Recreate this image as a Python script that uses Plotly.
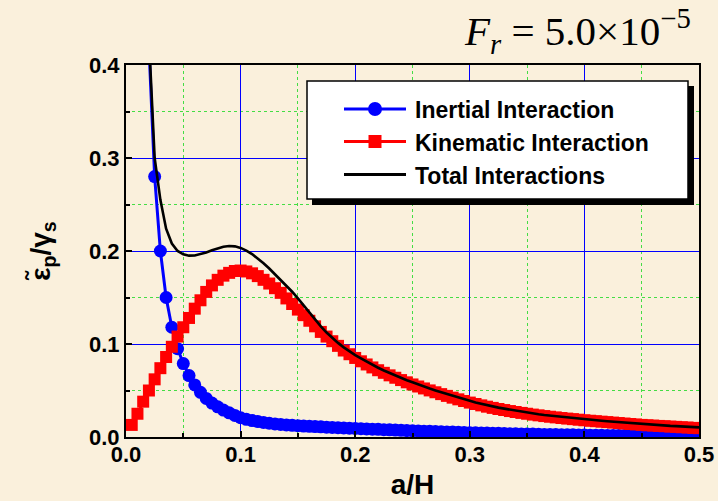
import plotly.graph_objects as go

# Normalised pile length a/H (sampling grid of the three curves)
a_over_h = [round(0.005 * i, 3) for i in range(1, 101)]

# Inertial interaction
inertial = [
    5.1, 1.46, 0.70, 0.42, 0.280, 0.200, 0.150, 0.118, 0.095, 0.079,
    0.066, 0.056, 0.048, 0.0415, 0.0365, 0.0325, 0.029, 0.026, 0.0232, 0.0207,
    0.0190, 0.0177, 0.0166, 0.0156, 0.0148, 0.0141, 0.0135, 0.0130, 0.0126, 0.0122,
    0.0118, 0.0115, 0.0112, 0.0109, 0.0106, 0.0103, 0.0100, 0.0097, 0.0094, 0.0092,
    0.0089, 0.0087, 0.0084, 0.0082, 0.0079, 0.0077, 0.0074, 0.0072, 0.0069, 0.0067,
    0.0065, 0.0063, 0.0061, 0.0059, 0.0057, 0.0055, 0.0053, 0.0051, 0.0049, 0.0047,
    0.0045, 0.0044, 0.0042, 0.0041, 0.0039, 0.0038, 0.0036, 0.0035, 0.0033, 0.0032,
    0.0031, 0.0029, 0.0028, 0.0027, 0.0026, 0.0025, 0.0024, 0.0023, 0.0022, 0.0021,
    0.0020, 0.0019, 0.0018, 0.0017, 0.0016, 0.0015, 0.0015, 0.0014, 0.0013, 0.0012,
    0.0012, 0.0011, 0.0010, 0.0010, 0.0009, 0.0009, 0.0008, 0.0008, 0.0007, 0.0007,
]

# Kinematic interaction
kinematic = [
    0.013, 0.025, 0.038, 0.050, 0.062, 0.074, 0.086, 0.097, 0.108, 0.118,
    0.128, 0.138, 0.147, 0.156, 0.163, 0.169, 0.1735, 0.1765, 0.1785, 0.179,
    0.178, 0.176, 0.173, 0.169, 0.165, 0.160, 0.155, 0.149, 0.143, 0.137,
    0.131, 0.125, 0.119, 0.113, 0.108, 0.103, 0.098, 0.093, 0.089, 0.085,
    0.0814, 0.0780, 0.0748, 0.0718, 0.0690, 0.0663, 0.0637, 0.0612, 0.0588, 0.0565,
    0.0543, 0.0522, 0.0501, 0.0481, 0.0461, 0.0442, 0.0423, 0.0405, 0.0387, 0.0370,
    0.0355, 0.0340, 0.0326, 0.0313, 0.0301, 0.0290, 0.0279, 0.0269, 0.0259, 0.0250,
    0.0241, 0.0233, 0.0225, 0.0218, 0.0211, 0.0204, 0.0198, 0.0192, 0.0186, 0.0180,
    0.0175, 0.0170, 0.0165, 0.0160, 0.0155, 0.0150, 0.0145, 0.0140, 0.0135, 0.0130,
    0.0126, 0.0123, 0.0119, 0.0116, 0.0112, 0.0109, 0.0105, 0.0102, 0.0098, 0.0095,
]

# Total interactions
total = [
    5.3, 1.5, 0.68, 0.43, 0.300, 0.255, 0.224, 0.208, 0.200, 0.1965,
    0.1950, 0.1952, 0.1965, 0.1985, 0.2007, 0.2028, 0.2045, 0.2054, 0.2050, 0.2033,
    0.2005, 0.1967, 0.1920, 0.1868, 0.1812, 0.1752, 0.1690, 0.1628, 0.1562, 0.1490,
    0.1414, 0.1337, 0.1261, 0.1189, 0.1123, 0.1065, 0.1012, 0.0964, 0.0920, 0.0880,
    0.0845, 0.0810, 0.0777, 0.0745, 0.0715, 0.0687, 0.0660, 0.0634, 0.0610, 0.0588,
    0.0563, 0.0542, 0.0521, 0.0501, 0.0481, 0.0462, 0.0443, 0.0425, 0.0407, 0.0389,
    0.0370, 0.0355, 0.0341, 0.0328, 0.0316, 0.0305, 0.0294, 0.0284, 0.0274, 0.0265,
    0.0253, 0.0245, 0.0237, 0.0230, 0.0223, 0.0216, 0.0210, 0.0204, 0.0198, 0.0192,
    0.0185, 0.0180, 0.0175, 0.0170, 0.0165, 0.0160, 0.0155, 0.0150, 0.0145, 0.0140,
    0.0134, 0.0131, 0.0127, 0.0124, 0.0120, 0.0117, 0.0113, 0.0110, 0.0106, 0.0103,
]

series_names = ["Inertial Interaction", "Kinematic Interaction", "Total Interactions"]
x_ticks = [0.0, 0.1, 0.2, 0.3, 0.4, 0.5]
y_ticks = [0.0, 0.1, 0.2, 0.3, 0.4]

BG = "#FAF0DC"
BLUE = "#0000FF"
RED = "#FF0000"
GREEN = "#44DD44"

W, H = 718, 501
ML, MR, MT, MB = 126, 19, 65, 64
PW, PH = W - ML - MR, H - MT - MB


def px(xp):
    return (xp - ML) / PW


def py(yp):
    return (H - MB - yp) / PH


fig = go.Figure()
fig.add_trace(go.Scatter(
    x=a_over_h, y=inertial, name=series_names[0], mode="lines+markers",
    line=dict(color=BLUE, width=3),
    marker=dict(symbol="circle", size=13, color=BLUE),
))
fig.add_trace(go.Scatter(
    x=a_over_h, y=kinematic, name=series_names[1], mode="lines+markers",
    line=dict(color=RED, width=3),
    marker=dict(symbol="square", size=12, color=RED),
))
fig.add_trace(go.Scatter(
    x=a_over_h, y=total, name=series_names[2], mode="lines",
    line=dict(color="black", width=2.6),
))

axis_common = dict(
    automargin=False,
    showline=True, linecolor="black", linewidth=2, mirror=True,
    ticks="inside", ticklen=6, tickwidth=2, tickcolor="black",
    showgrid=True, gridcolor=BLUE, gridwidth=1, zeroline=False,
    tickfont=dict(family="Liberation Sans, Arial", size=22, color="black", weight="bold"),
    tickformat=".1f",
)

fig.update_xaxes(
    range=[0, 0.5], tickvals=x_ticks, ticklabelstandoff=-3,
    minor=dict(dtick=0.05, tick0=0, ticks="inside", ticklen=4, tickwidth=2,
               tickcolor="black", showgrid=True, gridcolor=GREEN,
               griddash="dot", gridwidth=1),
    title=dict(text="a/H", standoff=8,
               font=dict(family="Liberation Sans, Arial", size=28, color="black", weight="bold")),
    **axis_common,
)
fig.update_yaxes(
    range=[0, 0.4], tickvals=y_ticks,
    minor=dict(dtick=0.05, tick0=0, ticks="inside", ticklen=4, tickwidth=2,
               tickcolor="black", showgrid=True, gridcolor=GREEN,
               griddash="dot", gridwidth=1),
    title=dict(text="ε\u0303<sub>p</sub>/γ<sub>s</sub>", standoff=30,
               font=dict(family="Liberation Sans, Arial", size=28, color="black", weight="bold")),
    **axis_common,
)

# Legend panel with drop shadow, drawn in paper space
shapes = [
    dict(type="rect", xref="paper", yref="paper", layer="above",
         x0=px(312), x1=px(694), y0=py(205), y1=py(86),
         fillcolor="black", line=dict(width=0)),
    dict(type="rect", xref="paper", yref="paper", layer="above",
         x0=px(307), x1=px(688), y0=py(199), y1=py(81),
         fillcolor="white", line=dict(color="black", width=1.5)),
]
legend_rows = [
    (series_names[0], BLUE, "circle", 109),
    (series_names[1], RED, "square", 141.5),
    (series_names[2], "black", None, 174.5),
]
annotations = []
for name, color, symbol, yrow in legend_rows:
    shapes.append(dict(type="line", xref="paper", yref="paper", layer="above",
                       x0=px(344), x1=px(406), y0=py(yrow), y1=py(yrow),
                       line=dict(color=color, width=3)))
    if symbol == "circle":
        shapes.append(dict(type="circle", xref="paper", yref="paper", layer="above",
                           x0=px(375 - 7), x1=px(375 + 7), y0=py(yrow + 7), y1=py(yrow - 7),
                           fillcolor=color, line=dict(width=0)))
    elif symbol == "square":
        shapes.append(dict(type="rect", xref="paper", yref="paper", layer="above",
                           x0=px(375 - 6.5), x1=px(375 + 6.5), y0=py(yrow + 6.5), y1=py(yrow - 6.5),
                           fillcolor=color, line=dict(width=0)))
    annotations.append(dict(
        text=name, xref="paper", yref="paper", x=px(413), y=py(yrow + 1),
        xanchor="left", yanchor="middle", showarrow=False,
        font=dict(family="Liberation Sans, Arial", size=23, color="black", weight="bold"),
    ))

annotations.append(dict(
    text="<i>F</i><sub><i>r</i></sub> = 5.0×10<sup>−5</sup>",
    xref="paper", yref="paper", x=px(693), y=py(31),
    xanchor="right", yanchor="middle", showarrow=False,
    font=dict(family="Liberation Serif, Times New Roman", size=41, color="black"),
))

fig.update_layout(
    width=W, height=H,
    margin=dict(l=ML, r=MR, t=MT, b=MB),
    paper_bgcolor=BG, plot_bgcolor=BG,
    showlegend=False,
    shapes=shapes,
    annotations=annotations,
)

fig.write_html("out.html")
